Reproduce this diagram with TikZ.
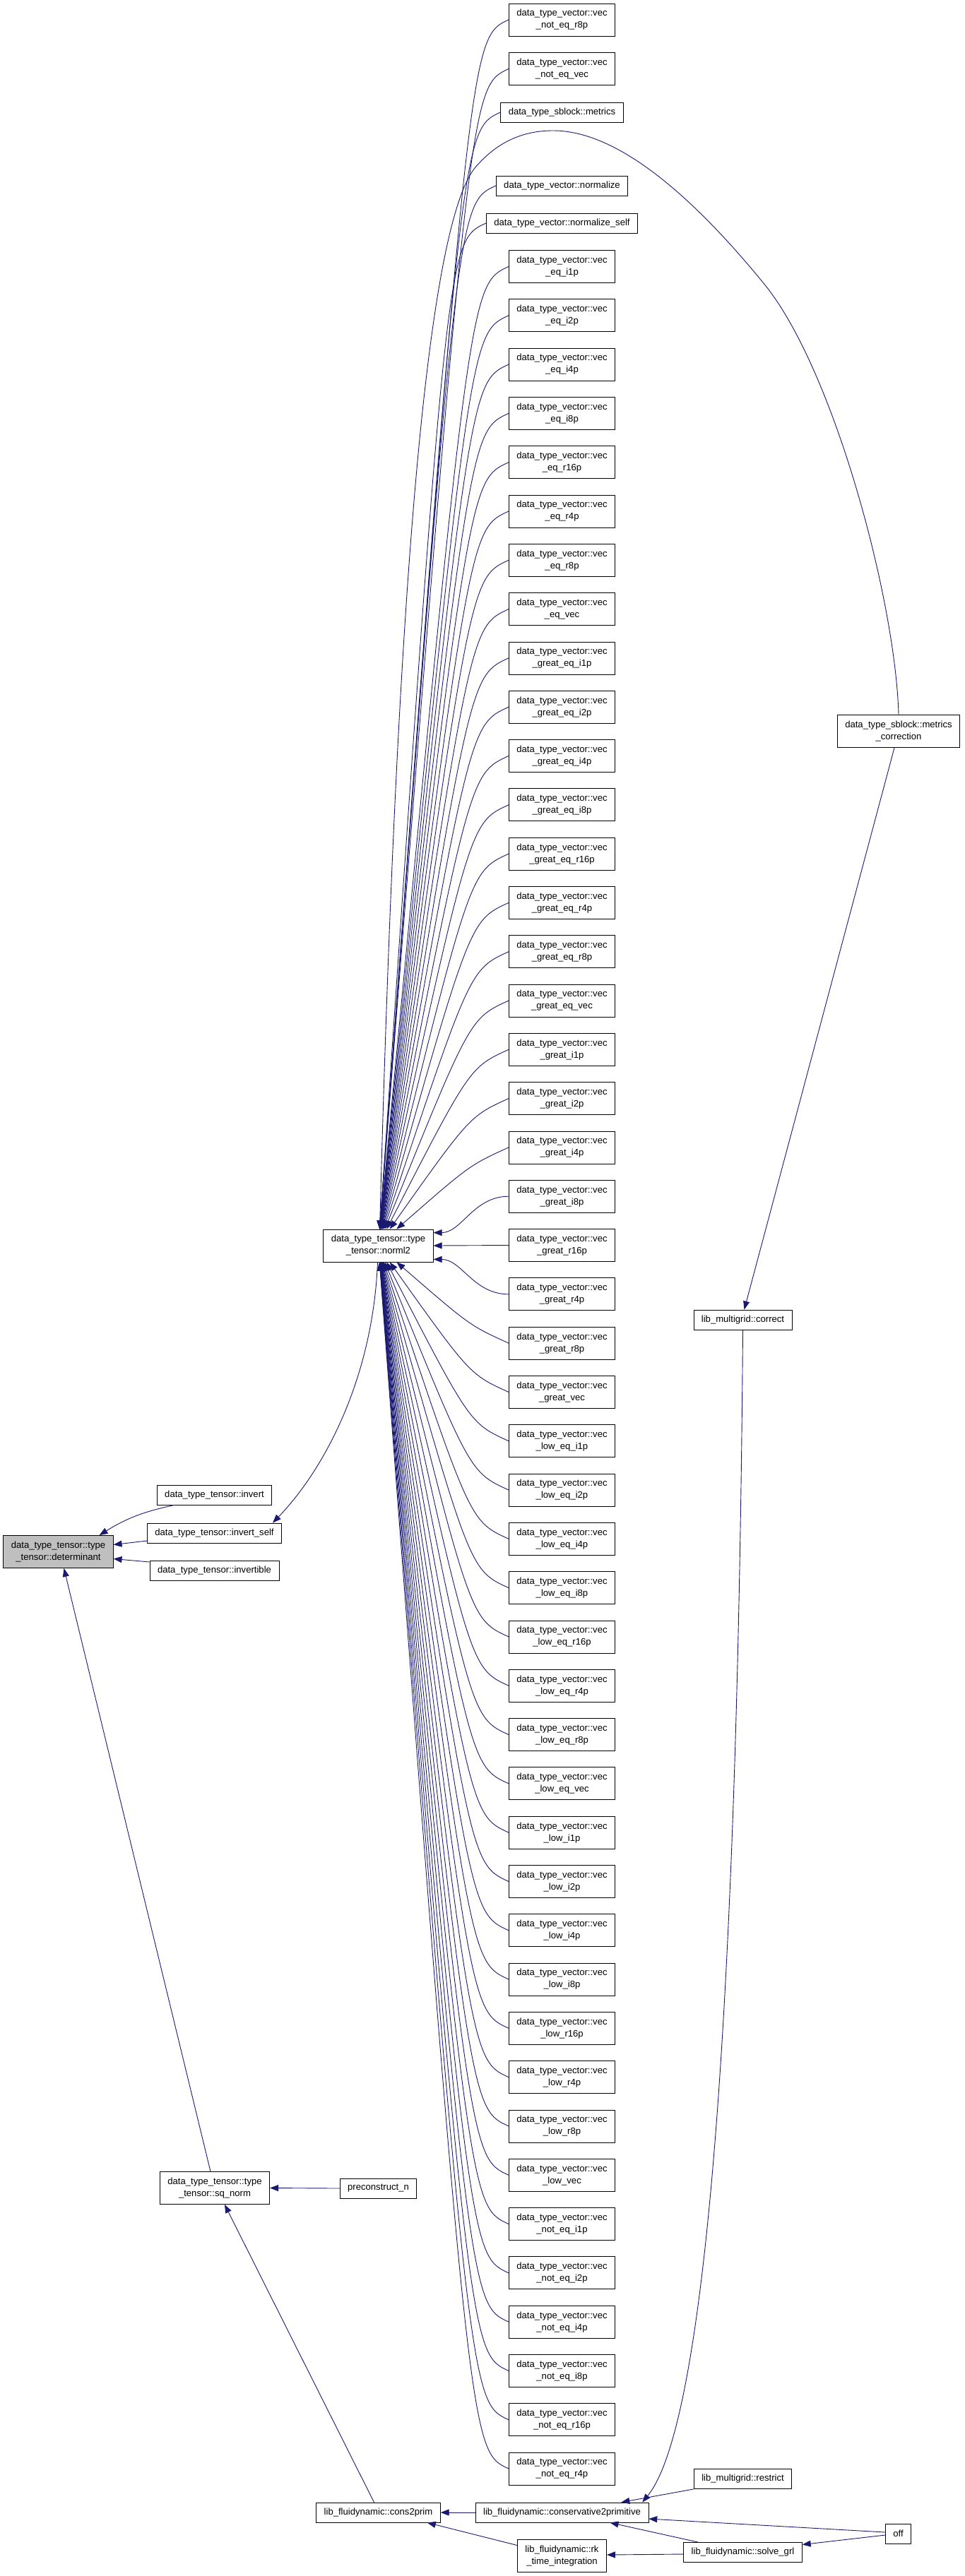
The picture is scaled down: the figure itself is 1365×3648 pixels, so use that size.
\documentclass[tikz,border=0pt]{standalone}
\usepackage{fontspec}
\setmainfont{Liberation Sans}
\usetikzlibrary{calc,arrows.meta}
\definecolor{edgeblue}{HTML}{191970}
\definecolor{rootgray}{HTML}{BFBFBF}
\tikzset{
  fn/.style={rectangle, draw=black, line width=0.8pt, fill=white, inner xsep=11pt, inner ysep=0pt,
    minimum height=28pt, align=center, font=\fontsize{13.1}{17}\selectfont},
  fntwo/.style={fn, minimum height=46pt},
  rootfn/.style={fntwo, fill=rootgray},
  call/.style={draw=edgeblue, line width=0.9pt, -{Triangle[length=12pt,width=9pt]}},
}

\begin{document}
\begin{tikzpicture}[x=1pt,y=-1pt]
  \useasboundingbox (0,0) rectangle (1365,3648);

  % --- Root and first callers ---
  \node[rootfn] (det) at (82.5,2197.5) {data\_type\_tensor::type\\\_tensor::determinant};
  \node[fn] (invert) at (303.5,2117) {data\_type\_tensor::invert};
  \node[fn] (invself) at (303.5,2171) {data\_type\_tensor::invert\_self};
  \node[fn] (invertible) at (303.5,2224) {data\_type\_tensor::invertible};
  \node[fntwo] (sqnorm) at (304,3098.5) {data\_type\_tensor::type\\\_tensor::sq\_norm};

  % --- Second rank ---
  \node[fntwo] (norml2) at (535.5,1764) {data\_type\_tensor::type\\\_tensor::norml2};
  \node[fn] (precon) at (535.5,3099) {preconstruct\_n};
  \node[fn] (cons) at (535.5,3558) {lib\_fluidynamic::cons2prim};

  % --- Third rank ---
  \node[fntwo] (ner8p) at (795.5,28) {data\_type\_vector::vec\\\_not\_eq\_r8p};
  \node[fntwo] (nevec) at (795.5,97.5) {data\_type\_vector::vec\\\_not\_eq\_vec};
  \node[fn] (metr) at (795.5,159) {data\_type\_sblock::metrics};
  \node[fn] (nrm) at (795.5,263) {data\_type\_vector::normalize};
  \node[fn] (nrmself) at (795.5,316) {data\_type\_vector::normalize\_self};
  \foreach \grp [count=\g from 0] in {eq,great\_eq,great,low\_eq,low}
    \foreach \suf [count=\s from 0] in {i1p,i2p,i4p,i8p,r16p,r4p,r8p,vec}{
      \pgfmathtruncatemacro\k{8*\g+\s}
      \node[fntwo] (v\k) at (795.5,{377.5+69.3*\k}) {data\_type\_vector::vec\\\_\grp\_\suf};
    }
  \foreach \suf [count=\s from 40] in {i1p,i2p,i4p,i8p,r16p,r4p}
    \node[fntwo] (v\s) at (795.5,{377.5+69.3*\s}) {data\_type\_vector::vec\\\_not\_eq\_\suf};
  \node[fn] (c2p) at (795.5,3558) {lib\_fluidynamic::conservative2primitive};
  \node[fntwo] (rk) at (795.5,3619.5) {lib\_fluidynamic::rk\\\_time\_integration};

  % --- Fourth and fifth rank ---
  \node[fn] (correct) at (1051.5,1869) {lib\_multigrid::correct};
  \node[fn] (restrict) at (1051.5,3510.5) {lib\_multigrid::restrict};
  \node[fn] (solve) at (1051.5,3614.5) {lib\_fluidynamic::solve\_grl};
  \node[fntwo] (mcorr) at (1272,1035.5) {data\_type\_sblock::metrics\\\_correction};
  \node[fn] (off) at (1271.5,3588) {off};

  % Calls into determinant
  \draw[call] ($(invert.south west)+(25,0)$) to[bend right=10] ($(det.north east)+(-20,0)$);
  \draw[call] ($(invself.west)+(0,11)$) -- ($(det.east)+(0,-10)$);
  \draw[call] ($(invertible.west)+(0,-12)$) -- ($(det.east)+(0,10)$);
  \draw[call] ($(sqnorm.north)+(-6,0)$) -- ($(det.south)+(8,0)$);

  % norml2 -> invert_self
  \draw[call] ($(norml2.south)+(-1,0)$) .. controls (528,1950) and (460,2080) .. ($(invself.north east)+(-13,0)$);

  % Fan into norml2
  \foreach \n/\ym in {ner8p/28,nevec/97.5,metr/159,nrm/263,nrmself/316}{
    \pgfmathsetmacro\dx{3000/(1741-\ym)}
    \draw[call] (\n.west) .. controls ($(\n.west)+(-55,25)$) and ($(\n.west)+(-55,25)$) .. ($(norml2.north)+(\dx,0)$);
  }
  \foreach \k in {0,...,18}{
    \pgfmathsetmacro\dx{3000/(1741-377.5-69.3*\k)}
    \draw[call] (v\k.west) .. controls ($(v\k.west)+(-55,25)$) and ($(v\k.west)+(-55,25)$) .. ($(norml2.north)+(\dx,0)$);
  }
  \draw[call] (v19.west) .. controls +(-50,0) and +(40,0) .. ($(norml2.north east)+(0,5)$);
  \draw[call] (v20.west) -- (norml2.east);
  \draw[call] (v21.west) .. controls +(-50,0) and +(40,0) .. ($(norml2.south east)+(0,-4)$);
  \foreach \k in {22,...,45}{
    \pgfmathsetmacro\dx{3000/(377.5+69.3*\k-1787)}
    \draw[call] (v\k.west) .. controls ($(v\k.west)+(-55,-25)$) and ($(v\k.west)+(-55,-25)$) .. ($(norml2.south)+(\dx,0)$);
  }

  % metrics_correction -> norml2 (long arc over the top)
  \draw[call] (mcorr.north) .. controls +(-4,-160) and (1180,520) .. (1080,400)
    .. controls (990,290) and (880,185) .. (783,185)
    .. controls (735,185) and (700,205) .. (672,238)
    .. controls (600,330) and (560,900) .. ($(norml2.north)+(2,0)$);

  % metrics_correction -> correct -> conservative2primitive
  \draw[call] ($(mcorr.south)+(-6,0)$) -- ($(correct.north)+(2,0)$);
  \draw[call] (correct.south) .. controls (1045,2700) and (1010,3420) .. ($(c2p.north east)+(-9,0)$);

  % Bottom cluster
  \draw[call] (restrict.south west) -- ($(c2p.north east)+(-39,0)$);
  \draw[call] ($(off.west)+(0,-2)$) -- ($(c2p.east)+(0,9)$);
  \draw[call] ($(off.west)+(0,2)$) -- ($(solve.east)+(0,-11)$);
  \draw[call] ($(solve.north west)+(21,0)$) -- ($(c2p.south)+(68,0)$);
  \draw[call] ($(solve.west)+(0,2.5)$) -- ($(rk.east)+(0,-1.5)$);
  \draw[call] (c2p.west) -- (cons.east);
  \draw[call] ($(rk.west)+(0,-15)$) -- ($(cons.south east)+(-19,0)$);
  \draw[call] ($(cons.north)+(-6,0)$) -- ($(sqnorm.south)+(14,0)$);
  \draw[call] (precon.west) -- (sqnorm.east);
\end{tikzpicture}
\end{document}
